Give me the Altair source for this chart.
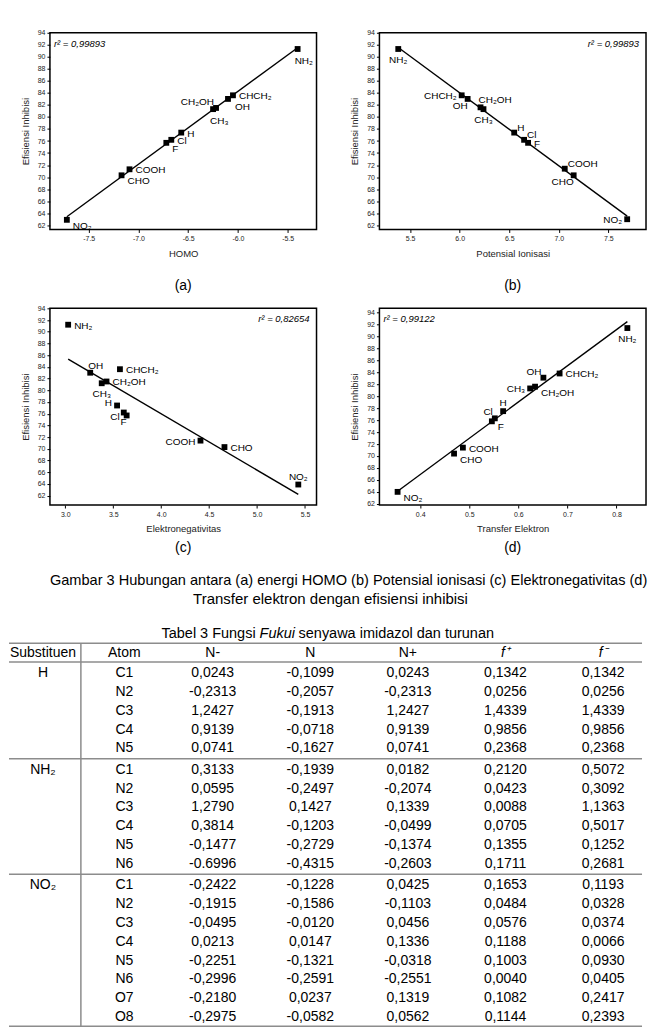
import altair as alt
import pandas as pd

FONT = "Liberation Sans"

# ---------------- scatter panels ----------------
subst = ["NH₂", "CHCH₂", "OH", "CH₂OH", "CH₃", "H", "Cl", "F", "COOH", "CHO", "NO₂"]

homo = [-5.40, -6.05, -6.10, -6.22, -6.25, -6.57, -6.67, -6.72, -7.09, -7.17, -7.72]
eff_a = [91.3, 83.6, 83.0, 81.5, 81.3, 77.4, 76.2, 75.7, 71.3, 70.3, 62.9]
anc_a = ["bs", "r", "rb2", "la", "bs", "r", "r", "rb", "r", "rb", "rb"]

ip = [5.38, 6.02, 6.08, 6.21, 6.24, 6.55, 6.65, 6.69, 7.06, 7.15, 7.69]
eff_b = [91.3, 83.6, 83.0, 81.6, 81.3, 77.4, 76.2, 75.7, 71.4, 70.3, 63.0]
anc_b = ["b", "l", "lb", "as", "b", "ra", "ra", "r", "ra", "lb", "l"]

en = [3.03, 3.57, 3.26, 3.43, 3.38, 3.54, 3.61, 3.64, 4.41, 4.66, 5.43]
eff_c = [91.2, 83.6, 83.0, 81.5, 81.2, 77.4, 76.2, 75.7, 71.4, 70.3, 63.9]
anc_c = ["r", "r", "as", "r", "b", "lu", "ld", "lb", "l", "r", "a"]

te = [0.822, 0.684, 0.651, 0.634, 0.624, 0.569, 0.552, 0.546, 0.487, 0.469, 0.354]
eff_d = [91.4, 83.8, 83.1, 81.6, 81.3, 77.5, 76.3, 75.8, 71.4, 70.4, 64.0]
anc_d = ["b", "r", "la", "rb", "l", "a", "la", "rb", "r", "rb", "rb"]

y_ticks = list(range(62, 95, 2))

# ---------------- table ----------------
hdr = ["Substituen", "Atom", "N-", "N", "N+", "f⁺", "f⁻"]
grp_names = ["H", "NH₂", "NO₂"]
grp_sizes = [5, 6, 8]
atom = ["C1", "N2", "C3", "C4", "N5",
        "C1", "N2", "C3", "C4", "N5", "N6",
        "C1", "N2", "C3", "C4", "N5", "N6", "O7", "O8"]
n_minus = ["0,0243", "-0,2313", "1,2427", "0,9139", "0,0741",
           "0,3133", "0,0595", "1,2790", "0,3814", "-0,1477", "-0.6996",
           "-0,2422", "-0,1915", "-0,0495", "0,0213", "-0,2251", "-0,2996", "-0,2180", "-0,2975"]
n_neu = ["-0,1099", "-0,2057", "-0,1913", "-0,0718", "-0,1627",
         "-0,1939", "-0,2497", "0,1427", "-0,1203", "-0,2729", "-0,4315",
         "-0,1228", "-0,1586", "-0,0120", "0,0147", "-0,1321", "-0,2591", "0,0237", "-0,0582"]
n_plus = ["0,0243", "-0,2313", "1,2427", "0,9139", "0,0741",
          "0,0182", "-0,2074", "0,1339", "-0,0499", "-0,1374", "-0,2603",
          "0,0425", "-0,1103", "0,0456", "0,1336", "-0,0318", "-0,2551", "0,1319", "0,0562"]
f_plus = ["0,1342", "0,0256", "1,4339", "0,9856", "0,2368",
          "0,2120", "0,0423", "0,0088", "0,0705", "0,1355", "0,1711",
          "0,1653", "0,0484", "0,0576", "0,1188", "0,1003", "0,0040", "0,1082", "0,1144"]
f_minus = ["0,1342", "0,0256", "1,4339", "0,9856", "0,2368",
           "0,5072", "0,3092", "1,1363", "0,5017", "0,1252", "0,2681",
           "0,1193", "0,0328", "0,0374", "0,0066", "0,0930", "0,0405", "0,2417", "0,2393"]

caption1 = "Gambar 3 Hubungan antara (a) energi HOMO  (b) Potensial ionisasi (c) Elektronegativitas (d)"
caption2 = "Transfer elektron dengan efisiensi inhibisi"
tbl_title = ["Tabel 3 Fungsi", "Fukui", "senyawa imidazol dan turunan"]

# label anchor styles: (align, dx, dy)
ANCH = {
    "r": ("left", 6, 1), "rb": ("left", 6, 6), "rb2": ("left", 7, 8),
    "ra": ("left", 3, -5),
    "l": ("right", -5, 1), "lu": ("right", -5, -2), "ld": ("right", -4, 4),
    "la": ("right", -2, -6), "lb": ("right", 0, 7),
    "b": ("center", 0, 11), "a": ("center", 0, -8),
    "bs": ("left", -3, 12), "as": ("left", -2, -7),
}

W, H = 267, 197


def panel(xs, ys, anc, xtitle, xdom, ydom, xticks, r2, r2side, cap, cap_off):
    df = pd.DataFrame({"x": xs, "y": ys, "lab": subst, "anc": anc})
    base = alt.Chart(df)
    X = alt.X("x:Q", scale=alt.Scale(domain=xdom, nice=False, zero=False),
              axis=alt.Axis(values=xticks, title=xtitle, labelOverlap=False,
                            labelExpr="replace(format(datum.value, '.1f'), '\u2212', '-')"))
    Y = alt.Y("y:Q", scale=alt.Scale(domain=ydom, nice=False, zero=False),
              axis=alt.Axis(values=y_ticks, title="Efisiensi Inhibisi",
                            labelOverlap=False, labelSeparation=0))
    pts = base.mark_square(size=34, color="black", opacity=1).encode(x=X, y=Y)
    fit = base.transform_regression("x", "y").mark_line(
        color="black", strokeWidth=1.4).encode(x=X, y=Y)
    layers = [pts, fit]
    for k in sorted(set(anc)):
        a, dx, dy = ANCH[k]
        layers.append(
            base.transform_filter(alt.datum.anc == k).mark_text(
                align=a, baseline="middle", dx=dx, dy=dy, fontSize=10,
                font=FONT, color="black").encode(x=X, y=Y, text="lab:N"))
    # r-squared annotation pinned to a top corner of the plot box
    if r2side == "left":
        rx, ra = 4, "left"
    else:
        rx, ra = W - 7, "right"
    r2t = alt.Chart(pd.DataFrame({"t": [r2]})).mark_text(
        align=ra, baseline="middle", fontSize=9.5,
        fontStyle="italic", font=FONT, color="black").encode(
        x=alt.value(rx), y=alt.value(11), text="t:N")
    layers.append(r2t)
    return alt.layer(*layers).properties(
        width=W, height=H,
        view=alt.ViewBackground(stroke="black", strokeWidth=1.5),
        title=alt.TitleParams(cap, orient="bottom", fontSize=14, fontWeight="normal",
                              font=FONT, color="black", anchor="middle",
                              frame="group", offset=cap_off))


pa = panel(homo, eff_a, anc_a, "HOMO", [-7.89, -5.21], [61.3, 94.0],
           [-7.5, -7.0, -6.5, -6.0, -5.5], "r² = 0,99893", "left", "(a)", 21)
pb = panel(ip, eff_b, anc_b, "Potensial Ionisasi", [5.19, 7.88], [61.3, 94.0],
           [5.5, 6.0, 6.5, 7.0, 7.5], "r² = 0,99893", "right", "(b)", 21)
pc = panel(en, eff_c, anc_c, "Elektronegativitas", [2.84, 5.62], [60.4, 94.0],
           [3.0, 3.5, 4.0, 4.5, 5.0, 5.5], "r² = 0,82654", "right", "(c)", 8)
pd_ = panel(te, eff_d, anc_d, "Transfer Elektron", [0.317, 0.86], [61.8, 94.7],
            [0.4, 0.5, 0.6, 0.7, 0.8], "r² = 0,99122", "left", "(d)", 8)

# invisible 1px spacer that indents the panel block a little from the page edge
spacer = alt.Chart(pd.DataFrame({"v": [0]})).mark_point(opacity=0, size=0).encode(
    x=alt.value(0), y=alt.value(0)).properties(width=1, height=1)

panels = alt.hconcat(
    spacer,
    alt.vconcat(alt.hconcat(pa, pb, spacing=31), alt.hconcat(pc, pd_, spacing=31),
                spacing=9),
    spacing=9)

# ---------------- table chart ----------------
ypos = []
i = 0
for g, size in enumerate(grp_sizes):
    for k in range(size):
        ypos.append(1.1 + i + 0.15 * g)
        i += 1

cells = []
for r in range(len(atom)):
    vals = [atom[r], n_minus[r], n_neu[r], n_plus[r], f_plus[r], f_minus[r]]
    for c, v in enumerate(vals, start=1):
        cells.append({"col": c, "y": ypos[r], "t": v})
start = 0
for g, size in enumerate(grp_sizes):
    cells.append({"col": 0, "y": ypos[start], "t": grp_names[g]})
    start += size
cells_df = pd.DataFrame(cells)

hdr_df = pd.DataFrame({"col": list(range(len(hdr))), "y": [0] * len(hdr), "t": hdr,
                       "it": [h.startswith("f") for h in hdr]})

bottom_line = ypos[-1] + 0.5
hl = [-0.5, 0.5]
start = 0
for size in grp_sizes[:-1]:
    start += size
    hl.append(ypos[start - 1] + 0.55)
hl.append(bottom_line)
hl_df = pd.DataFrame({"y": hl, "x0": [-0.5] * len(hl), "x1": [6.5] * len(hl)})
vl_df = pd.DataFrame({"x": [0.5], "y0": [-0.5], "y1": [bottom_line]})

TW = 646
UNIT = 18.8
YDOM = [-4.4, 19.95]
TH = round((YDOM[1] - YDOM[0]) * UNIT)
# piecewise column scale: first column is narrower than the numeric ones
XS = alt.Scale(domain=[-0.5, 0, 0.5, 1, 2, 6, 6.5],
               range=[0, 34, 72, 115.5, 204, 595, 634], nice=False, zero=False)
YS = alt.Scale(domain=YDOM, nice=False, zero=False, reverse=True)

t_cells = alt.Chart(cells_df).mark_text(fontSize=14, font=FONT, color="black",
                                         baseline="middle").encode(
    x=alt.X("col:Q", scale=XS, axis=None), y=alt.Y("y:Q", scale=YS, axis=None), text="t:N")
t_hdr = alt.Chart(hdr_df).transform_filter("!datum.it").mark_text(
    fontSize=14, font=FONT, color="black", baseline="middle").encode(
    x=alt.X("col:Q", scale=XS, axis=None), y=alt.Y("y:Q", scale=YS, axis=None), text="t:N")
t_hdr_it = alt.Chart(hdr_df).transform_filter("datum.it").mark_text(
    fontSize=14, font=FONT, color="black", baseline="middle", fontStyle="italic").encode(
    x=alt.X("col:Q", scale=XS, axis=None), y=alt.Y("y:Q", scale=YS, axis=None), text="t:N")
t_hl = alt.Chart(hl_df).mark_rule(color="#8c8c8c", strokeWidth=1.5).encode(
    x=alt.X("x0:Q", scale=XS, axis=None), x2="x1:Q", y=alt.Y("y:Q", scale=YS, axis=None))
t_vl = alt.Chart(vl_df).mark_rule(color="#8c8c8c", strokeWidth=1.5).encode(
    x=alt.X("x:Q", scale=XS, axis=None), y=alt.Y("y0:Q", scale=YS, axis=None), y2="y1:Q")

c1 = alt.Chart(pd.DataFrame({"t": [caption1]})).mark_text(
    fontSize=14.6, font=FONT, color="black", align="left", baseline="middle").encode(
    x=alt.value(41), y=alt.YDatum(-3.8, scale=YS, axis=None), text="t:N")
c2 = alt.Chart(pd.DataFrame({"t": [caption2]})).mark_text(
    fontSize=15, font=FONT, color="black", align="center", baseline="middle").encode(
    x=alt.value(322), y=alt.YDatum(-2.83, scale=YS, axis=None), text="t:N")
tt1 = alt.Chart(pd.DataFrame({"t": [tbl_title[0]]})).mark_text(
    fontSize=14.5, font=FONT, color="black", align="right", baseline="middle").encode(
    x=alt.value(247), y=alt.YDatum(-0.98, scale=YS, axis=None), text="t:N")
tt2 = alt.Chart(pd.DataFrame({"t": [tbl_title[1]]})).mark_text(
    fontSize=14.5, font=FONT, color="black", align="left", baseline="middle",
    fontStyle="italic").encode(
    x=alt.value(251), y=alt.YDatum(-0.98, scale=YS, axis=None), text="t:N")
tt3 = alt.Chart(pd.DataFrame({"t": [tbl_title[2]]})).mark_text(
    fontSize=14.5, font=FONT, color="black", align="left", baseline="middle").encode(
    x=alt.value(290), y=alt.YDatum(-0.98, scale=YS, axis=None), text="t:N")

table = alt.layer(t_hl, t_vl, t_cells, t_hdr, t_hdr_it, c1, c2, tt1, tt2, tt3).properties(
    width=TW, height=TH, view=alt.ViewBackground(strokeWidth=0))

chart = alt.vconcat(panels, table, spacing=13).properties(
    padding={"left": 0, "top": 19, "right": 0, "bottom": 0}
).configure_view(strokeWidth=0).configure_axis(
    grid=False, domain=False, ticks=True, tickColor="black", tickSize=3,
    labelFont=FONT, labelFontSize=7, labelColor="#222", labelPadding=2,
    labelOverlap=False, minExtent=0,
    titleFont=FONT, titleFontSize=9.5, titleFontWeight="normal", titleColor="#222",
    titlePadding=7
)

chart.save("out.html", embed_options={"renderer": "svg", "actions": False})
